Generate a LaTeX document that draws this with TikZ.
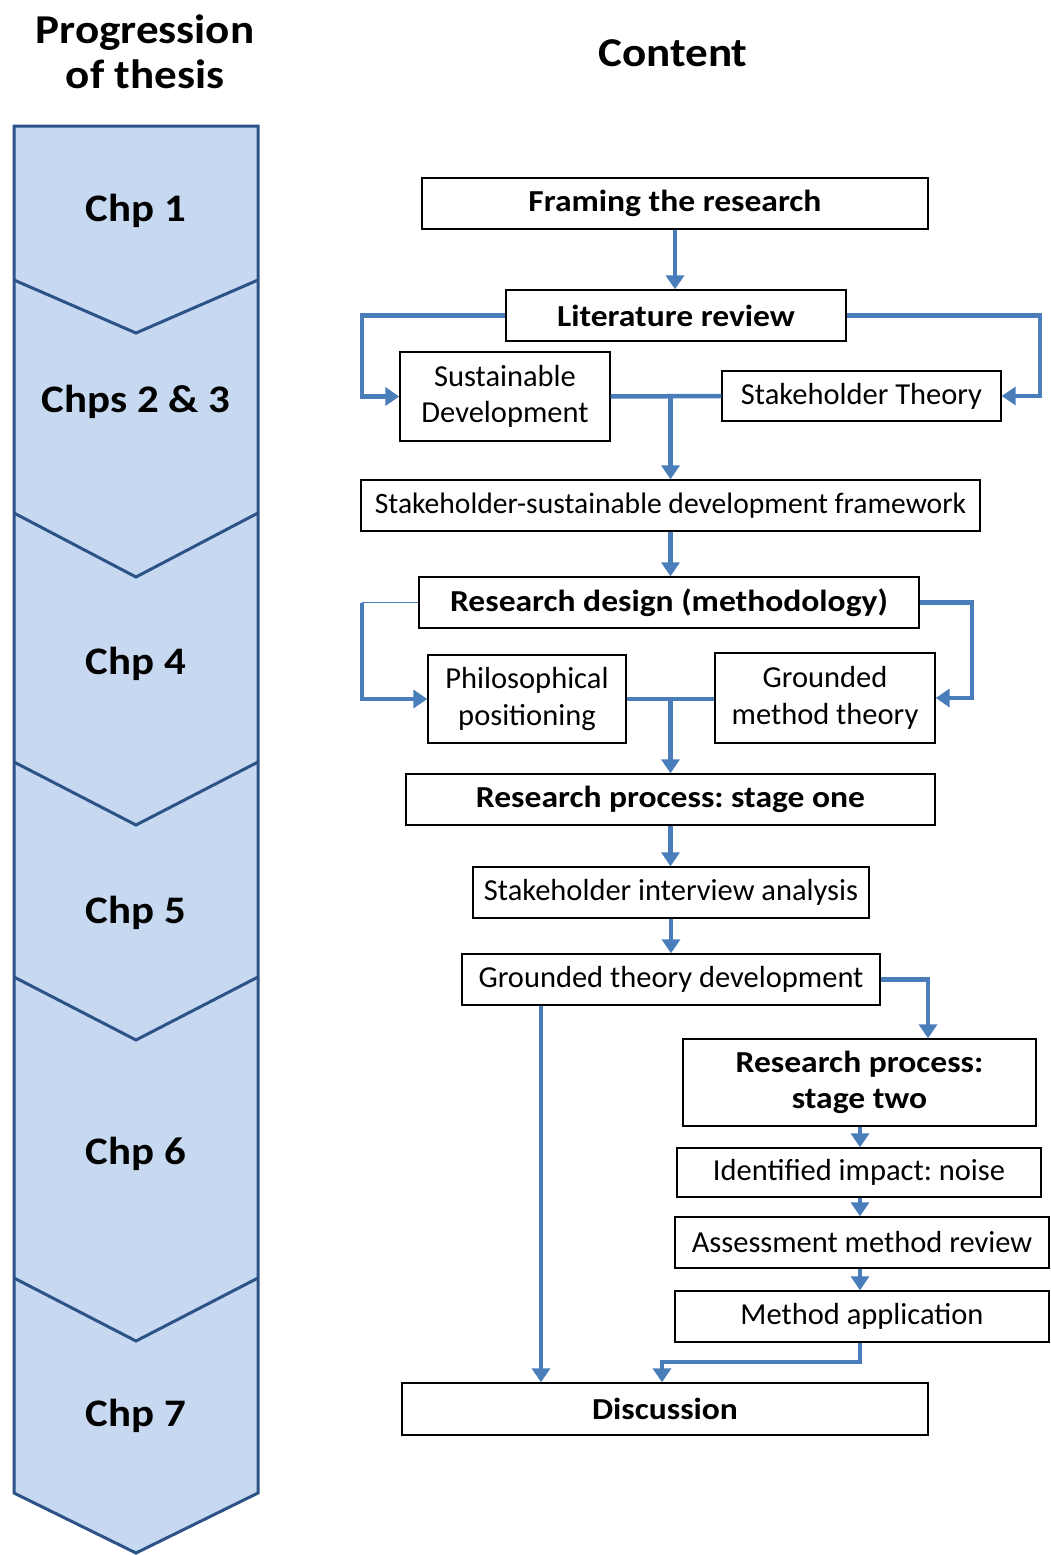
\documentclass[tikz,border=0pt]{standalone}
\usepackage{fontspec}
\setmainfont{Carlito}[BoldFeatures={FakeStretch=1.1}]
\usetikzlibrary{arrows.meta,calc}
\definecolor{chevfill}{HTML}{C6D9F1}
\definecolor{chevline}{HTML}{2C5288}
\definecolor{flow}{HTML}{4A7EBB}
\frenchspacing

% box from corner (x1,y1) to corner (x2,y2), in pixels of the page grid
\newcommand{\mkbox}[7]{%
  \node[#2,minimum width={(#5-#3)*1pt},minimum height={(#6-#4)*1pt}]
    (#1) at ({(#3+#5)/2},{(#4+#6)/2}) {#7};}

\begin{document}
\begin{tikzpicture}[x=1pt,y=-1pt,
  box/.style={draw=black,line width=1.4pt,fill=white,inner sep=0pt,align=center,
    font=\fontsize{30.5}{36.5}\selectfont},
  boldbox/.style={box,font=\fontsize{30.5}{36.5}\selectfont\bfseries},
  flowline/.style={draw=flow,line width=4.5pt},
  flowarrow/.style={flowline,-{Triangle[length=14pt,width=18pt]}},
  chp/.style={font=\fontsize{39}{44}\selectfont\bfseries},
  heading/.style={font=\fontsize{41}{45}\selectfont\bfseries,align=center}]

\useasboundingbox (0,0) rectangle (1050,1555);

% ---- chapter column ----
\filldraw[fill=chevfill,draw=chevline,line width=3pt,line join=miter]
  (14,126) -- (258,126) -- (258,1493) -- (136,1553) -- (14,1493) -- cycle;
\foreach \s/\t in {280/333,513/577,762/825,977/1040,1278/1341}
  \draw[chevline,line width=3pt] (14,\s) -- (136,\t) -- (258,\s);

\node[heading] (hprog) at (145,52) {Progression\\of thesis};
\node[heading] (hcont) at (673,53) {Content};

\node[chp] (c1) at (136,211) {Chp 1};
\node[chp] (c23) at (136,402) {Chps 2 \& 3};
\node[chp] (c4) at (136,664) {Chp 4};
\node[chp] (c5) at (136,913) {Chp 5};
\node[chp] (c6) at (136,1154) {Chp 6};
\node[chp] (c7) at (136,1416) {Chp 7};

% ---- content boxes ----
\mkbox{frame}{boldbox}{422}{178}{928}{229}{Framing the research}
\mkbox{lit}{boldbox}{506}{290}{846}{341}{Literature review}
\mkbox{sd}{box}{400}{352}{610}{441}{Sustainable\\Development}
\mkbox{st}{box}{722}{371}{1001}{421}{Stakeholder Theory}
\mkbox{fw}{box}{361}{480}{980}{531}{\fontsize{29.6}{36}\selectfont Stakeholder-sustainable development framework}
\mkbox{rd}{boldbox}{419}{577}{919}{628}{Research design (methodology)}
\mkbox{pp}{box}{428}{655}{626}{743}{Philosophical\\positioning}
\mkbox{gm}{box}{715}{653}{935}{743}{Grounded\\method theory}
\mkbox{s1}{boldbox}{406}{774}{935}{825}{Research process: stage one}
\mkbox{sia}{box}{473}{867}{869}{918}{Stakeholder interview analysis}
\mkbox{gtd}{box}{462}{954}{880}{1005}{Grounded theory development}
\mkbox{s2}{boldbox}{683}{1039}{1036}{1126}{Research process:\\stage two}
\mkbox{ii}{box}{677}{1148}{1041}{1197}{Identified impact: noise}
\mkbox{amr}{box}{675}{1217}{1049}{1268}{Assessment method review}
\mkbox{ma}{box}{675}{1291}{1049}{1342}{Method application}
\mkbox{dis}{boldbox}{402}{1383}{928}{1435}{Discussion}

% ---- routing columns ----
\coordinate (lx) at (362,0);
\coordinate (rx) at (1040,0);
\coordinate (rx2) at (972,0);
\coordinate (cx) at (928,0);
\coordinate (dx) at (541,0);
\coordinate (jx) at (860,0);
\coordinate (bend) at (662,1362);

% ---- connectors ----
\draw[flowarrow] (frame.south) -- (frame.south |- lit.north);
\draw[flowarrow] (lit.west) -- (lit.west -| lx) |- (sd.west);
\draw[flowarrow] (lit.east) -- (lit.east -| rx) |- (st.east);
\draw[flowline] (sd.east) -- (st.west);
\draw[flowarrow] (fw.north |- sd.east) -- (fw.north);
\draw[flowarrow] (fw.south) -- (fw.south |- rd.north);
\draw[flow,line width=1.2pt] (rd.west) -- (rd.west -| lx);
\draw[flowarrow] (rd.west -| lx) |- (pp.west);
\draw[flowarrow] (rd.east) -- (rd.east -| rx2) |- (gm.east);
\draw[flowline] (pp.east) -- (pp.east -| gm.west);
\draw[flowarrow] (s1.north |- pp.east) -- (s1.north);
\draw[flowarrow] (s1.south) -- (s1.south |- sia.north);
\draw[flowarrow] (sia.south) -- (sia.south |- gtd.north);
\draw[flowarrow] (gtd.east) -| (s2.north -| cx);
\draw[flowarrow] (gtd.south -| dx) -- (dis.north -| dx);
\draw[flowarrow] (s2.south -| jx) -- (ii.north -| jx);
\draw[flowarrow] (ii.south -| jx) -- (amr.north -| jx);
\draw[flowarrow] (amr.south -| jx) -- (ma.north -| jx);
\draw[flowarrow] (ma.south -| jx) |- (bend) -- (dis.north -| bend);
\end{tikzpicture}
\end{document}
